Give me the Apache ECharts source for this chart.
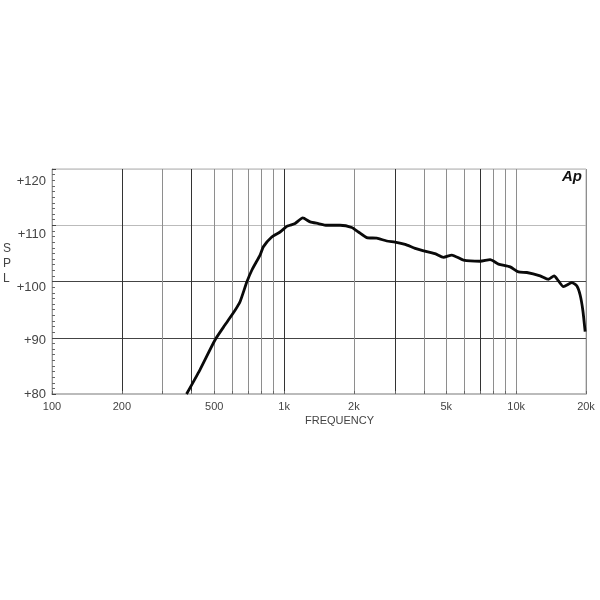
<!DOCTYPE html>
<html>
<head>
<meta charset="utf-8">
<script src="https://cdn.jsdelivr.net/npm/echarts@6/dist/echarts.min.js"></script>
<style>html,body{margin:0;padding:0;background:#fff;}#c{width:600px;height:600px;}</style>
</head>
<body>
<div id="c"></div>
<script>
// ---- data ----
const freqHz = [380, 434, 504, 557, 615, 646, 691, 726, 788, 815, 885, 961, 1027, 1061, 1115, 1204, 1295, 1406, 1528, 1743, 1958, 2091, 2271, 2509, 2771, 3008, 3323, 3670, 4121, 4500, 4863, 5283, 5929, 6998, 7726, 8391, 9423, 10235, 11120, 12690, 13780, 14580, 15220, 15990, 17380, 18270, 18870, 19380, 19830];
const splDb  = [80.0, 84.3, 89.6, 92.3, 94.9, 96.4, 99.9, 102.0, 104.7, 106.2, 107.9, 108.8, 109.8, 110.0, 110.3, 111.3, 110.6, 110.3, 110.0, 110.0, 109.6, 108.8, 107.8, 107.7, 107.2, 107.0, 106.6, 105.9, 105.3, 104.9, 104.3, 104.7, 103.8, 103.6, 103.9, 103.1, 102.6, 101.7, 101.6, 101.0, 100.4, 101.0, 100.1, 99.1, 99.8, 99.2, 97.6, 94.9, 91.1];
const gridFreqs = [100, 200, 300, 400, 500, 600, 700, 800, 900, 1000, 2000, 3000, 4000, 5000, 6000, 7000, 8000, 9000, 10000, 20000];
const labelFreqs = [100, 200, 500, 1000, 2000, 5000, 10000, 20000];
const labelTexts = ['100', '200', '500', '1k', '2k', '5k', '10k', '20k'];
const yTicks = [80, 90, 100, 110, 120];

const lg = v => Math.log10(v);
const seriesData = freqHz.map((f, i) => [lg(f), splDb[i]]);

const darkGrid = '#333', lightGrid = '#8e8e8e';
const vColors = gridFreqs.map(f => [200, 400, 1000, 3000, 7000].includes(f) ? darkGrid : lightGrid);
vColors[0] = '#aaa';

const narrow = '"Liberation Sans Narrow", "Arial Narrow", "Liberation Sans", sans-serif';

const chart = echarts.init(document.getElementById('c'), null, {renderer: 'canvas'});
chart.setOption({
  animation: false,
  backgroundColor: '#fff',
  grid: {left: 52, right: 14, top: 169, bottom: 206, show: true, borderColor: '#b0b0b0', borderWidth: 1},
  xAxis: {
    type: 'value', min: 2, max: lg(20000),
    axisLine: {show: true, lineStyle: {color: '#bbb', width: 2}},
    axisTick: {show: true, inside: true, length: 3, customValues: gridFreqs.map(lg), lineStyle: {color: '#666'}},
    axisLabel: {
      customValues: labelFreqs.map(lg), margin: 7,
      fontFamily: narrow, fontSize: 11, color: '#444',
      formatter: v => {
        let best = 0, d = 1e9;
        labelFreqs.forEach((f, i) => { const dd = Math.abs(lg(f) - v); if (dd < d) { d = dd; best = i; } });
        return labelTexts[best];
      }
    },
    splitLine: {show: true, lineStyle: {color: vColors, width: 1}}
  },
  yAxis: [{
    type: 'value', min: 80, max: 120, interval: 10,
    axisLine: {show: true, lineStyle: {color: '#999'}},
    axisTick: {show: true, inside: true, length: 4, lineStyle: {color: '#444'}},
    minorTick: {show: true, splitNumber: 10, length: 3, lineStyle: {color: '#666'}},
    axisLabel: {show: false},
    splitLine: {show: true, lineStyle: {color: ['#bbb', '#444', '#444', '#bbb', '#ccc'], width: 1}}
  }, {
    type: 'value', min: 80, max: 122.3, interval: 10, position: 'left',
    axisLine: {show: false}, axisTick: {show: false}, splitLine: {show: false},
    axisLabel: {
      margin: 6, fontFamily: 'Liberation Sans, Arial, sans-serif', fontSize: 13, color: '#444',
      formatter: v => yTicks.includes(v) ? '+' + v : ''
    }
  }],
  graphic: [
    {type: 'text', left: 305, top: 415, style: {text: 'FREQUENCY', font: '11px ' + narrow, fill: '#444'}},
    {type: 'text', left: 3, top: 241, style: {text: 'S\nP\nL', font: '12px Liberation Sans, sans-serif', lineHeight: 15, fill: '#444', align: 'center'}},
    {type: 'text', left: 562, top: 169, style: {text: 'Ap', font: 'italic bold 15px Liberation Sans, sans-serif', fill: '#111'}}
  ],
  series: [{
    type: 'line', xAxisIndex: 0, yAxisIndex: 0, data: seriesData,
    showSymbol: false, smooth: 0.2,
    lineStyle: {color: '#0a0a0a', width: 2.8}
  }]
});
</script>
</body>
</html>
